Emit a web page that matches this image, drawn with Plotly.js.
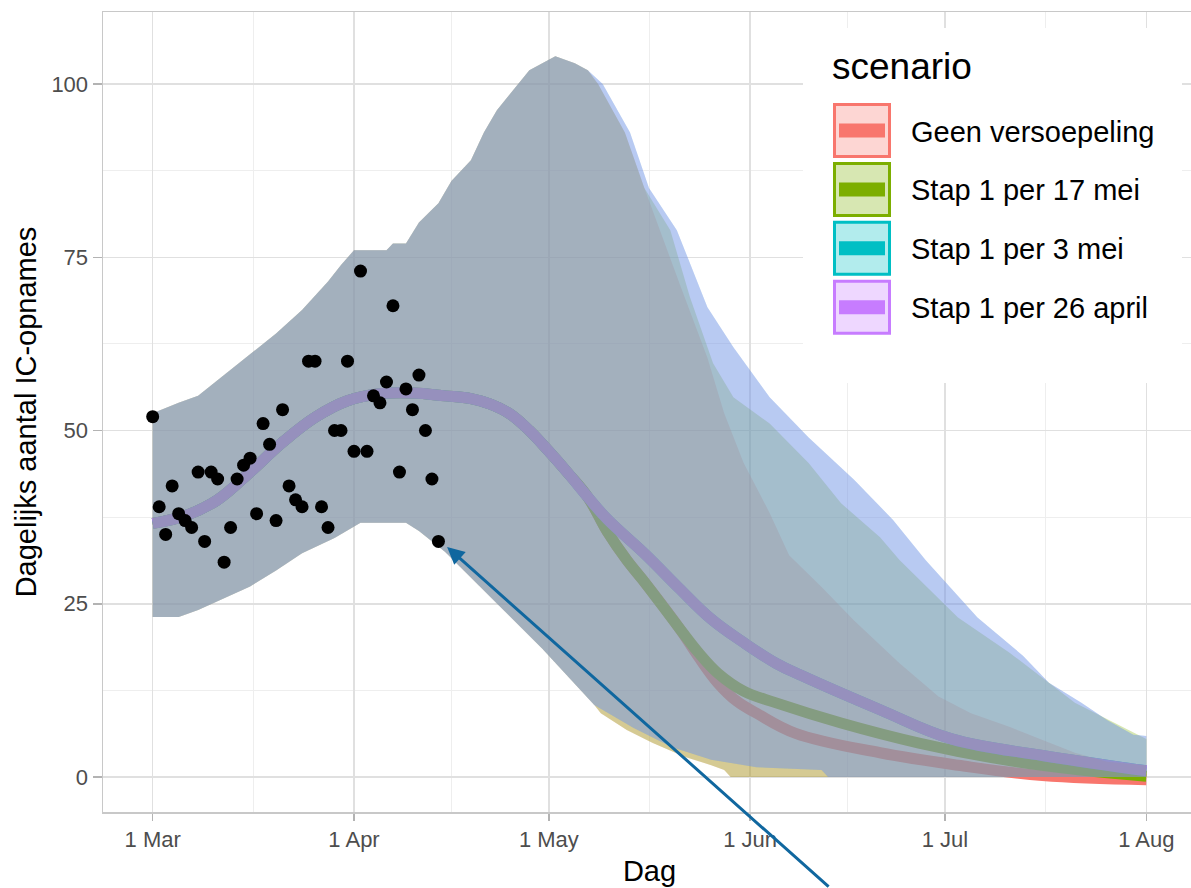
<!DOCTYPE html>
<html>
<head>
<meta charset="utf-8">
<script src="https://cdn.plot.ly/plotly-3.0.1.min.js"></script>
<style>
html,body{margin:0;padding:0;background:#fff;overflow:hidden;}
#chart{width:1196px;height:888px;}
</style>
</head>
<body>
<div id="chart"></div>
<script>
// ---------- categories ----------
const scenarios = ['Geen versoepeling', 'Stap 1 per 17 mei', 'Stap 1 per 3 mei', 'Stap 1 per 26 april'];
const scenarioRGB = [[248,118,109],[124,174,0],[0,191,196],[199,124,255]];

// ---------- axis ticks ----------
const xTickVals = ['2021-03-01','2021-04-01','2021-05-01','2021-06-01','2021-07-01','2021-08-01'];
const xTickText = ['1 Mar','1 Apr','1 May','1 Jun','1 Jul','1 Aug'];
const xMinorVals = ['2021-03-16 12:00','2021-04-16','2021-05-16 12:00','2021-06-16','2021-07-16 12:00'];
const yTickVals = [0,25,50,75,100];
const yMinorVals = [12.5,37.5,62.5,87.5];

// ---------- observed daily IC admissions ----------
const obsDates = ['2021-03-01','2021-03-02','2021-03-03','2021-03-04','2021-03-05','2021-03-06','2021-03-07','2021-03-08','2021-03-09','2021-03-10',
  '2021-03-11','2021-03-12','2021-03-13','2021-03-14','2021-03-15','2021-03-16','2021-03-17','2021-03-18','2021-03-19','2021-03-20',
  '2021-03-21','2021-03-22','2021-03-23','2021-03-24','2021-03-25','2021-03-26','2021-03-27','2021-03-28','2021-03-29','2021-03-30',
  '2021-03-31','2021-04-01','2021-04-02','2021-04-03','2021-04-04','2021-04-05','2021-04-06','2021-04-07','2021-04-08','2021-04-09',
  '2021-04-10','2021-04-11','2021-04-12','2021-04-13','2021-04-14'];
const obsValues = [52,39,35,42,38,37,36,44,34,44, 43,31,36,43,45,46,38,51,48,37, 53,42,40,39,60,60,39,36,50,50, 60,47,73,47,55,54,57,68,44,56, 53,58,50,43,34];

// ---------- model mean, shared part (before scenarios diverge) ----------
const meanSharedDates = ['2021-03-01','2021-03-06','2021-03-11','2021-03-16','2021-03-21','2021-03-26','2021-03-31','2021-04-05','2021-04-10','2021-04-15','2021-04-19','2021-04-22','2021-04-25','2021-04-28','2021-05-01','2021-05-04','2021-05-07'];
const meanShared = [36.6,37.7,40.0,44.0,48.3,51.9,54.3,55.3,55.4,55.0,54.6,53.8,52.4,50.0,47.0,43.8,40.4];

// scenario tails of the mean
const meanRedDates = ['2021-05-10','2021-05-13','2021-05-16','2021-05-21','2021-05-24','2021-05-27','2021-05-30','2021-06-02','2021-06-08','2021-06-21','2021-07-03','2021-07-16','2021-08-01'];
const meanRed = [35.4,31.3,27.8,21.6,17.4,13.6,10.9,9.2,6.3,3.5,1.7,0.2,-0.4];
const meanGreenDates = ['2021-05-10','2021-05-13','2021-05-16','2021-05-21','2021-05-24','2021-05-27','2021-05-31','2021-06-05','2021-06-15','2021-06-27','2021-07-10','2021-07-22','2021-08-01'];
const meanGreen = [35.4,31.3,27.8,21.6,18.0,15.0,12.4,10.7,7.8,4.9,2.5,1.0,0.1];
const meanCyanDates = ['2021-05-10','2021-05-16','2021-05-21','2021-05-26','2021-05-31','2021-06-05','2021-06-09','2021-06-21','2021-07-02','2021-07-16','2021-08-01'];
const meanCyan = [37.2,32.0,27.3,22.8,19.4,16.4,14.6,9.7,5.5,3.1,0.9];
const meanPurpleDates = ['2021-05-10','2021-05-16','2021-05-21','2021-05-26','2021-05-31','2021-06-05','2021-06-09','2021-06-21','2021-07-02','2021-07-16','2021-08-01'];
const meanPurple = [37.2,32.0,27.3,22.8,19.4,16.4,14.6,9.7,5.5,3.1,0.9];

// ---------- uncertainty band: shared upper / lower ----------
const upperSharedDates = ['2021-03-01','2021-03-05','2021-03-08','2021-03-12','2021-03-16','2021-03-20','2021-03-24','2021-03-28','2021-03-30','2021-03-31','2021-04-01','2021-04-06','2021-04-07','2021-04-09','2021-04-11','2021-04-14','2021-04-16','2021-04-19','2021-04-21','2021-04-23','2021-04-26','2021-04-28','2021-04-30','2021-05-02','2021-05-05','2021-05-07'];
const upperShared = [52.5,54,55,58,61,64,67.4,71.5,73.9,75,76,76,77,77,80,82.8,86,89,93,96.2,99.6,102,103,104,103,102];
const lowerSharedDates = ['2021-03-01','2021-03-05','2021-03-08','2021-03-12','2021-03-16','2021-03-20','2021-03-24','2021-03-29','2021-04-02','2021-04-09','2021-04-11','2021-04-15','2021-04-30','2021-05-08'];
const lowerShared = [23.1,23.1,24.1,25.8,27.5,29.8,32.3,34.5,36.7,36.7,35.5,32.5,18.5,10.4];

// scenario tails of the band
const upperRedDates = ['2021-05-08 14:00','2021-05-12 17:00','2021-05-15 17:00','2021-05-18 05:00','2021-05-21 05:00','2021-05-25 10:00','2021-05-28','2021-05-31','2021-06-04','2021-06-07','2021-06-12','2021-06-17','2021-06-24','2021-06-30','2021-07-05','2021-07-11','2021-07-16','2021-07-21','2021-07-26','2021-08-01'];
const upperRed = [100,93,85,78.5,71,60.5,52.5,45.3,38.1,32,27.4,22.6,16.4,11.6,9.2,7.2,5.3,3.5,2.2,1.7];
const upperGreenDates = ['2021-05-08 14:00','2021-05-12 17:00','2021-05-15 17:00','2021-05-19 17:00','2021-05-22 17:00','2021-05-26 07:00','2021-05-29 10:00','2021-06-04','2021-06-10','2021-06-15','2021-06-21','2021-06-24','2021-07-03','2021-07-11','2021-07-21','2021-08-01'];
const upperGreen = [100,93,85,78.9,69.3,59.7,54.8,51,45.3,39.5,34.6,31.3,23,17.9,10.7,5.5];
const upperCyanDates = ['2021-05-09 07:00','2021-05-13 12:00','2021-05-16 10:00','2021-05-20 17:00','2021-05-25 10:00','2021-05-29 10:00','2021-06-04','2021-06-10','2021-06-17','2021-06-23','2021-06-28','2021-07-06','2021-07-13','2021-07-17','2021-07-22','2021-07-26','2021-07-30','2021-08-01'];
const upperCyan = [100,93,85,78.9,67.8,62,54.8,49,42.9,37.1,31.3,23,17.5,13.6,10.7,8.2,6.1,5.9];
const upperPurpleDates = upperCyanDates;
const upperPurple = [100,93,85,78.9,67.8,62,54.8,49,42.9,37.1,31.3,23,17.5,13.6,10.7,8.2,6.1,5.9];

const lowerRedDates = ['2021-05-09','2021-05-13','2021-05-17','2021-05-22','2021-05-26','2021-05-28','2021-05-29','2021-08-01'];
const lowerRed = [9.2,6.8,4.9,2.9,1.7,1.0,0,0];
const lowerGreenDates = lowerRedDates;
const lowerGreen = [9.2,6.8,4.9,2.9,1.7,1.0,0,0];
const lowerCyanDates = ['2021-05-14','2021-05-20','2021-05-26','2021-06-02','2021-06-12','2021-06-13','2021-08-01'];
const lowerCyan = [7.1,4.3,2.5,1.4,1.0,0,0];
const lowerPurpleDates = lowerCyanDates;
const lowerPurple = [7.1,4.3,2.5,1.4,1.0,0,0];

// ---------- assemble ----------
const meanTails = [[meanRedDates,meanRed],[meanGreenDates,meanGreen],[meanCyanDates,meanCyan],[meanPurpleDates,meanPurple]];
const upperTails = [[upperRedDates,upperRed],[upperGreenDates,upperGreen],[upperCyanDates,upperCyan],[upperPurpleDates,upperPurple]];
const lowerTails = [[lowerRedDates,lowerRed],[lowerGreenDates,lowerGreen],[lowerCyanDates,lowerCyan],[lowerPurpleDates,lowerPurple]];

const rgb = c => `rgb(${c[0]},${c[1]},${c[2]})`;
const rgba = (c,a) => `rgba(${c[0]},${c[1]},${c[2]},${a})`;
const FONT = 'Liberation Sans, Arial, Helvetica, sans-serif';

const traces = [];
// mean lines (drawn first, under the bands)
scenarios.forEach((s,i) => {
  traces.push({
    type:'scatter', mode:'lines', name:s, showlegend:false, hoverinfo:'skip',
    x: meanSharedDates.concat(meanTails[i][0]),
    y: meanShared.concat(meanTails[i][1]),
    line:{color:rgb(scenarioRGB[i]), width:11, shape:'spline', smoothing:1.1}
  });
});
// bands
scenarios.forEach((s,i) => {
  const ux = upperSharedDates.concat(upperTails[i][0]);
  const uy = upperShared.concat(upperTails[i][1]);
  const lx = lowerSharedDates.concat(lowerTails[i][0]);
  const ly = lowerShared.concat(lowerTails[i][1]);
  traces.push({
    type:'scatter', mode:'lines', name:s+' band', showlegend:false, hoverinfo:'skip',
    x: ux.concat(lx.slice().reverse()),
    y: uy.concat(ly.slice().reverse()),
    fill:'toself', fillcolor:rgba(scenarioRGB[i],0.3), line:{width:0}
  });
});
// observations
traces.push({
  type:'scatter', mode:'markers', name:'data', showlegend:false, hoverinfo:'x+y',
  x: obsDates, y: obsValues,
  marker:{color:'#000', size:13}
});

// ---------- geometry helpers for legend (paper coords) ----------
const L = 103, W = 1093, T = 12, H = 800;
const px = v => (v - L) / W;
const py = v => (T + H - v) / H;

const shapes = [];
const annotations = [];
// legend background
shapes.push({type:'rect', xref:'paper', yref:'paper', layer:'above',
  x0:px(803), x1:px(1182), y0:py(383), y1:py(28),
  fillcolor:'#ffffff', line:{width:0}});
annotations.push({xref:'paper', yref:'paper', x:px(830), y:py(66), xanchor:'left', yanchor:'middle',
  text:'scenario', showarrow:false, font:{family:FONT, size:37, color:'#000'}});
scenarios.forEach((s,i) => {
  const top = 103 + 58.9*i, bot = top + 55, mid = (top+bot)/2;
  shapes.push({type:'rect', xref:'paper', yref:'paper', layer:'above',
    x0:px(834.5), x1:px(889.5), y0:py(bot-1.5), y1:py(top+1.5),
    fillcolor:rgba(scenarioRGB[i],0.3), line:{color:rgb(scenarioRGB[i]), width:3}});
  shapes.push({type:'rect', xref:'paper', yref:'paper', layer:'above',
    x0:px(839), x1:px(885), y0:py(mid+7), y1:py(mid-7),
    fillcolor:rgb(scenarioRGB[i]), line:{width:0}});
  annotations.push({xref:'paper', yref:'paper', x:px(909), y:py(mid+1), xanchor:'left', yanchor:'middle',
    text:s, showarrow:false, font:{family:FONT, size:29, color:'#000'}});
});
// arrow pointing at the last observation
annotations.push({xref:'x', yref:'y', x:'2021-04-15 08:00', y:33.2, text:'', showarrow:true,
  ax:383, ay:358, axref:'pixel', ayref:'pixel', arrowcolor:'#10679f', arrowwidth:3,
  arrowhead:2, arrowsize:1.15, standoff:0});

const layout = {
  width:1196, height:888,
  margin:{l:L, r:0, t:T, b:888-T-H},
  paper_bgcolor:'#fff', plot_bgcolor:'#fff',
  showlegend:false,
  font:{family:FONT},
  xaxis:{
    type:'date', range:['2021-02-21 08:24','2021-08-08 15:36'],
    tickmode:'array', tickvals:xTickVals, ticktext:xTickText,
    ticks:'outside', ticklen:7, tickwidth:1.5, tickcolor:'#b3b3b3',
    tickfont:{family:FONT, size:22, color:'#4d4d4d'},
    showgrid:true, gridcolor:'#e0e0e0', gridwidth:1.5,
    minor:{tickmode:'array', tickvals:xMinorVals, showgrid:true, gridcolor:'#eeeeee', gridwidth:1, ticks:''},
    showline:true, mirror:true, linecolor:'#c8c8c8', linewidth:1.5, zeroline:false,
    title:{text:'Dag', font:{family:FONT, size:29, color:'#000'}, standoff:10},
    automargin:false, fixedrange:true
  },
  yaxis:{
    range:[-5.05,110.39],
    tickmode:'array', tickvals:yTickVals,
    ticks:'outside', ticklen:9, tickwidth:1.5, tickcolor:'#b3b3b3',
    tickfont:{family:FONT, size:22, color:'#4d4d4d'},
    showgrid:true, gridcolor:'#e0e0e0', gridwidth:1.5,
    minor:{tickmode:'array', tickvals:yMinorVals, showgrid:true, gridcolor:'#eeeeee', gridwidth:1, ticks:''},
    showline:true, mirror:true, linecolor:'#c8c8c8', linewidth:1.5, zeroline:false,
    title:{text:'Dagelijks aantal IC-opnames', font:{family:FONT, size:29, color:'#000'}, standoff:6},
    automargin:false, fixedrange:true
  },
  shapes:shapes,
  annotations:annotations
};

Plotly.newPlot('chart', traces, layout, {displayModeBar:false, staticPlot:true});
</script>
</body>
</html>
